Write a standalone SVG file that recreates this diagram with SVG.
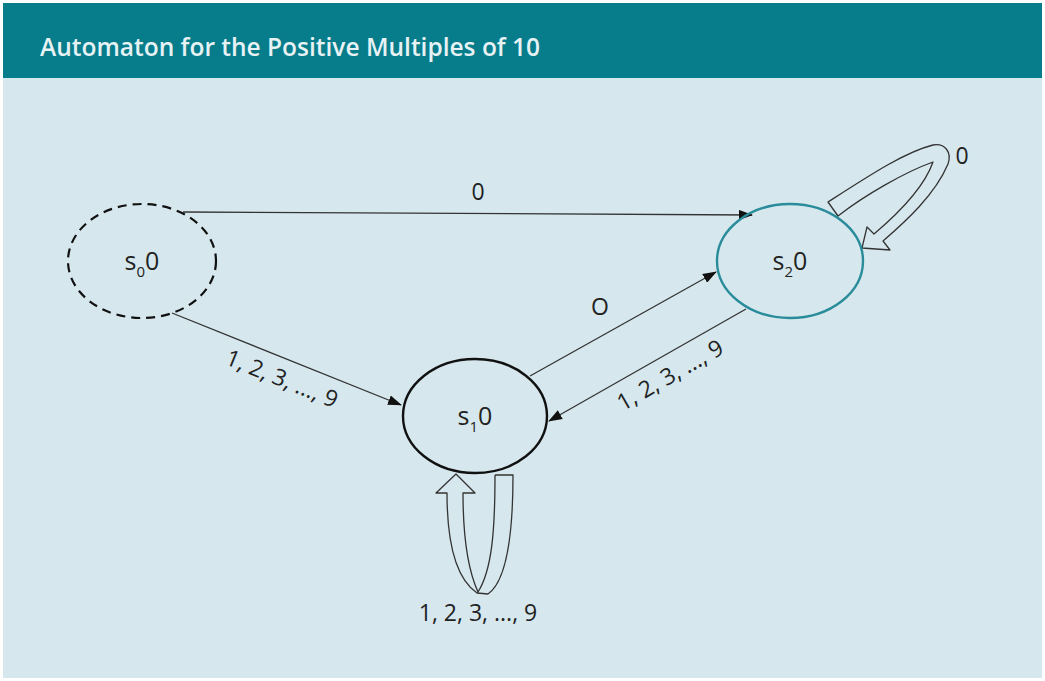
<svg xmlns="http://www.w3.org/2000/svg" width="1045" height="681" viewBox="0 0 1045 681">
<defs>
<style>
.t{font-family:"Open Sans","Noto Sans",sans-serif;font-size:25px;fill:#222;}
.lbl{font-family:"Open Sans","Noto Sans",sans-serif;font-size:23px;fill:#222;}
.edge{stroke:#333;stroke-width:1.3;fill:none;marker-end:url(#ah);}
.loop{fill:none;stroke:#333;stroke-width:1.3;stroke-linejoin:round;}
</style>
<marker id="ah" markerWidth="14" markerHeight="10" refX="13" refY="5" orient="auto" markerUnits="userSpaceOnUse">
<path d="M0,0 L14,5 L0,10 Z" fill="#111"/>
</marker>
</defs>
<rect x="0" y="0" width="1045" height="681" fill="#ffffff"/>
<rect x="3" y="3" width="1039" height="675" fill="#d6e8ee"/>
<rect x="3" y="3" width="1039" height="75" fill="#077c8b"/>
<text x="40" y="56" font-family="'Open Sans','Noto Sans',sans-serif" font-size="24.5" font-weight="600" fill="#e6f2f4">Automaton for the Positive Multiples of 10</text>

<g id="connectors">
<line class="edge" x1="183" y1="212" x2="752" y2="215"/>
<line class="edge" x1="172" y1="313" x2="401" y2="405"/>
<line class="edge" x1="530" y1="376" x2="716" y2="272"/>
<line class="edge" x1="746" y1="309" x2="549" y2="421"/>
<path class="loop" d="M495,475 L513,475 C513,530 508,580 488,594 L477,593 C455,578 447,540 447,493 L436,493 L456,474 L475,493 L463,493 C463,540 468,570 478,592 M478,592 C492,570 495,530 495,475"/>
<path class="loop" d="M828,202 C870,175 905,152 933,145 C945,143 952,152 948,164 C935,195 905,222 883,241 L890,250 L862,248 L867,227 L874,234 C900,212 925,185 933,162 C905,172 865,195 838,216 Z"/>
<text class="lbl" x="478" y="200" text-anchor="middle">0</text>
<text class="lbl" x="600" y="315" text-anchor="middle">O</text>
<text class="lbl" transform="translate(279,386) rotate(22)" text-anchor="middle">1, 2, 3, ..., 9</text>
<text class="lbl" transform="translate(674,382) rotate(-30)" text-anchor="middle">1, 2, 3, ..., 9</text>
<text class="lbl" x="478" y="621" text-anchor="middle">1, 2, 3, ..., 9</text>
<text class="lbl" x="962" y="164" text-anchor="middle">0</text>
</g>

<g id="s0">
<ellipse cx="142" cy="261" rx="74" ry="57" fill="none" stroke="#111" stroke-width="2.2" stroke-dasharray="9,6"/>
<text class="t" x="142" y="270" text-anchor="middle">s<tspan font-size="15" dy="7">0</tspan><tspan dy="-7">0</tspan></text>
</g>
<g id="s1">
<ellipse cx="475" cy="416" rx="72" ry="57" fill="none" stroke="#111" stroke-width="2.4"/>
<text class="t" x="475" y="425" text-anchor="middle">s<tspan font-size="15" dy="7">1</tspan><tspan dy="-7">0</tspan></text>
</g>
<g id="s2">
<ellipse cx="790" cy="261" rx="73" ry="57" fill="none" stroke="#2a8c9a" stroke-width="2.4"/>
<text class="t" x="790" y="270" text-anchor="middle">s<tspan font-size="15" dy="7">2</tspan><tspan dy="-7">0</tspan></text>
</g>
</svg>
